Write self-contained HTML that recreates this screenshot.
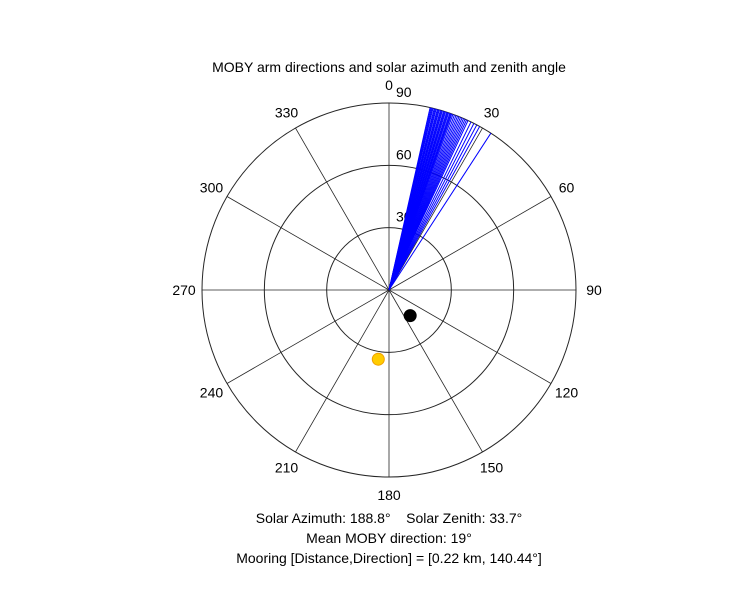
<!DOCTYPE html>
<html><head><meta charset="utf-8"><style>
body{margin:0;background:#fff;}
svg text{font-family:"Liberation Sans",Arial,sans-serif;font-size:14px;fill:#000;}
</style></head><body>
<svg width="750" height="600">
<rect width="750" height="600" fill="#fff"/>
<g id="grid"></g>
<g id="rlabels"></g>
<g id="arms"></g>
<g id="alabels"></g>
<text x="389" y="72" text-anchor="middle">MOBY arm directions and solar azimuth and zenith angle</text>
<text x="389" y="523" text-anchor="middle" style="white-space:pre">Solar Azimuth: 188.8°    Solar Zenith: 33.7°</text>
<text x="389" y="543" text-anchor="middle">Mean MOBY direction: 19°</text>
<text x="389" y="563" text-anchor="middle">Mooring [Distance,Direction] = [0.22 km, 140.44°]</text>
</svg>
<script>
const armAngles=[12.7,13,13.3,13.6,14,14.3,14.6,15,15.3,15.6,16,16.3,16.6,17,17.3,17.6,18,18.3,18.6,19,19.3,19.6,20,20.5,21,21.5,22,22.5,23,23.5,24,24.5,25,26,27,28,29,33];
const armLength=[90];
const rTicks=[30,60,90];
const thetaTicks=[0,30,60,90,120,150,180,210,240,270,300,330];
const sunAz=[188.8], sunZen=[33.7];
const mooringDir=[140.44], mooringR=[16];
const cx=389,cy=290,R=187,rMax=90;
const NS='http://www.w3.org/2000/svg';
function rs(r){return r/rMax*R;}
function pt(az,r){const a=az*Math.PI/180;return [cx+rs(r)*Math.sin(a),cy-rs(r)*Math.cos(a)];}
function mk(t,attrs,parent){const e=document.createElementNS(NS,t);for(const k in attrs)e.setAttribute(k,attrs[k]);parent.appendChild(e);return e;}
const grid=document.getElementById('grid');
rTicks.forEach(r=>{const c=mk('circle',{cx:cx,cy:cy,r:rs(r),fill:'none',stroke:'#262626','stroke-width':1},grid);

});
thetaTicks.forEach(t=>{const p=pt(t,rMax);const l=mk('line',{x1:cx,y1:cy,x2:p[0],y2:p[1],stroke:'#262626','stroke-width':0.8},grid);

});
const rl=document.getElementById('rlabels');
rTicks.forEach(r=>{const t=mk('text',{x:cx+7,y:cy-rs(r)-6,'text-anchor':'start'},rl);t.textContent=r;

});
const arms=document.getElementById('arms');
armAngles.forEach(a=>{const p=pt(a,armLength[0]);const l=mk('line',{x1:cx,y1:cy,x2:p[0],y2:p[1],stroke:'#0000ff','stroke-width':1},arms);

});
const al=document.getElementById('alabels');
thetaTicks.forEach(t=>{const a=t*Math.PI/180;const x=cx+205*Math.sin(a),y=cy-205*Math.cos(a)+5;const e=mk('text',{x:x,y:y,'text-anchor':'middle'},al);e.textContent=t;

});
const svg=document.querySelector('svg');
const mp=pt(mooringDir[0],mooringR[0]);
const md=mk('circle',{cx:mp[0],cy:mp[1],r:6.5,fill:'#000'},svg);


const sp=pt(sunAz[0],sunZen[0]);
const sd=mk('circle',{cx:sp[0],cy:sp[1],r:6,fill:'#ffcc00',stroke:'#f0a000','stroke-width':1},svg);


</script>
</body></html>
